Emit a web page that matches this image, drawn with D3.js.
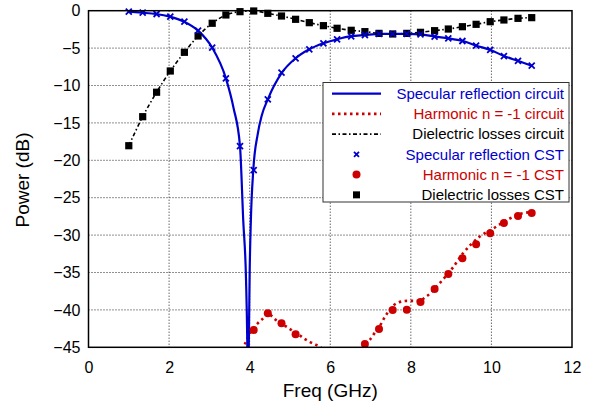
<!DOCTYPE html>
<html>
<head>
<meta charset="utf-8">
<script src="https://cdn.jsdelivr.net/npm/d3@7"></script>
<style>
body { margin: 0; background: #fff; }
svg { font-family: "Liberation Sans", Arial, sans-serif; }
</style>
</head>
<body>
<div class="chart"></div>
<script>
// frequencies of the CST samples (GHz)
const freqCST = [1.0, 1.345, 1.69, 2.03, 2.38, 2.72, 3.07, 3.41, 3.76, 4.1, 4.45, 4.79, 5.14, 5.48, 5.83,
    6.17, 6.52, 6.86, 7.21, 7.55, 7.9, 8.24, 8.59, 8.93, 9.28, 9.62, 9.97, 10.31, 10.66, 11.0];
const specularCST = [-0.13, -0.27, -0.44, -0.8, -1.47, -2.67, -4.95, -9.04, -18.1, -21.3, -11.85, -8.29, -6.36, -5.16, -4.36,
    -3.82, -3.42, -3.25, -3.11, -3.1, -3.11, -3.16, -3.47, -3.69, -4.05, -4.68, -5.25, -6.06, -6.72, -7.35];
const dielectricCST = [-18.05, -14.17, -10.9, -8.06, -5.56, -3.38, -1.68, -0.57, -0.13, -0.04, -0.35, -0.71, -1.15, -1.6, -2.0,
    -2.35, -2.62, -2.8, -3.03, -3.11, -3.03, -2.89, -2.67, -2.45, -2.14, -1.82, -1.47, -1.24, -1.02, -0.93];
const harmonicCST = [null, null, null, null, null, null, null, null, null, -42.69, -40.45, -41.79, -43.26, null, null,
    null, null, -44.56, -42.55, -40.0, -39.97, -38.94, -37.2, -35.2, -33.1, -31.23, -29.76, -28.38, -27.45, -27.04];

// circuit model curves
const freqSpecCirc = [1.0, 1.33, 1.67, 2.02, 2.37, 2.72, 3.07, 3.41, 3.6, 3.76, 3.84, 3.91, 3.94, 3.96, 3.98, 4.0, 4.03,
    4.09, 4.2, 4.3, 4.45, 4.8, 5.14, 5.48, 5.83, 6.17, 6.51, 6.86, 7.22, 7.55, 7.9, 8.24, 8.6, 8.93, 9.29, 9.63, 9.98,
    10.31, 10.67, 11.0];
const specCirc = [-0.13, -0.27, -0.44, -0.8, -1.47, -2.67, -4.95, -9.04, -13, -18.1, -28, -36, -44, -55, -44, -35, -28,
    -21.3, -16.5, -14, -11.85, -8.29, -6.36, -5.16, -4.36, -3.82, -3.4, -3.25, -3.11, -3.1, -3.11, -3.16, -3.47, -3.69,
    -4.05, -4.68, -5.25, -6.06, -6.72, -7.35];
const freqHarmCirc = [3.8, 3.87, 3.93, 4.01, 4.2, 4.32, 4.45, 4.64, 4.9, 5.04, 5.19, 5.37, 5.5, 5.62, 5.73, 5.85,
    6.3,
    6.8, 6.86, 6.98, 7.1, 7.19, 7.36, 7.5, 7.65, 7.9, 8.18, 8.39, 8.64, 8.85, 9.05, 9.3, 9.5, 9.71, 10.05, 10.38, 10.75, 10.96];
const harmCirc = [-47, -44.8, -44.0, -43.1, -41.8, -41.2, -40.5, -41.3, -42.2, -42.7, -43.2, -43.9, -44.3, -44.6, -44.9, -45.5,
    null,
    -45.2, -44.5, -44.0, -43.1, -42.5, -40.9, -39.8, -39.1, -38.8, -38.8, -38.2, -36.9, -35.6, -34.3, -32.4, -31.2, -30.2,
    -29.1, -28.0, -27.1, -26.95];

const xTicks = [0, 2, 4, 6, 8, 10, 12];
const yTicks = [0, -5, -10, -15, -20, -25, -30, -35, -40, -45];
const legendItems = ["Specular reflection circuit", "Harmonic n = -1 circuit", "Dielectric losses circuit",
    "Specular reflection CST", "Harmonic n = -1 CST", "Dielectric losses CST"];

const width = 597, height = 407;
const blue = '#0000cc', red = '#cc0000';
const pLeft = 88.5, pRight = 572, pTop = 10.7, pBottom = 347.3;

const svg = d3.select('.chart').append('svg')
    .attr('width', width)
    .attr('height', height);

const x = d3.scaleLinear().domain([0, 12]).range([pLeft, pRight]);
const y = d3.scaleLinear().domain([-45, 0]).range([pBottom, pTop]);

svg.append('clipPath').attr('id', 'clip')
    .append('rect')
    .attr('x', pLeft).attr('y', pTop)
    .attr('width', pRight - pLeft).attr('height', pBottom - pTop);

// grid
svg.append('g').selectAll('line')
    .data(xTicks.slice(1, -1))
    .enter().append('line')
    .attr('x1', d => x(d)).attr('x2', d => x(d))
    .attr('y1', pTop).attr('y2', pBottom)
    .attr('stroke', '#222').attr('stroke-width', 1).attr('stroke-dasharray', '1,2');
svg.append('g').selectAll('line')
    .data(yTicks.slice(1, -1))
    .enter().append('line')
    .attr('x1', pLeft).attr('x2', pRight)
    .attr('y1', d => y(d)).attr('y2', d => y(d))
    .attr('stroke', '#222').attr('stroke-width', 1).attr('stroke-dasharray', '1,2');

// axes
const xAxis = svg.append('g')
    .attr('transform', `translate(0,${pBottom})`)
    .call(d3.axisBottom(x).tickValues(xTicks).tickSize(0).tickPadding(14));
const yAxis = svg.append('g')
    .attr('transform', `translate(${pLeft},0)`)
    .call(d3.axisLeft(y).tickValues(yTicks).tickSize(0).tickPadding(8));
[xAxis, yAxis].forEach(a => {
    a.select('.domain').remove();
    a.selectAll('text').attr('font-size', 16).attr('fill', '#000')
        .attr('font-family', '"Liberation Sans", Arial, sans-serif');
});

const plot = svg.append('g').attr('clip-path', 'url(#clip)');

const line = d3.line()
    .defined(d => d[1] !== null)
    .x(d => x(d[0]))
    .y(d => y(d[1]))
    .curve(d3.curveMonotoneX);

// dielectric circuit
plot.append('path')
    .datum(freqCST.map((f, i) => [f, dielectricCST[i]]))
    .attr('d', line)
    .attr('fill', 'none')
    .attr('stroke', '#000')
    .attr('stroke-width', 1.6)
    .attr('stroke-dasharray', '4,2.5,1.5,2.5');

// harmonic circuit
plot.append('path')
    .datum(freqHarmCirc.map((f, i) => [f, harmCirc[i]]))
    .attr('d', line)
    .attr('fill', 'none')
    .attr('stroke', red)
    .attr('stroke-width', 2.6)
    .attr('stroke-dasharray', '2.5,3.5');

// specular circuit
plot.append('path')
    .datum(freqSpecCirc.map((f, i) => [f, specCirc[i]]))
    .attr('d', line)
    .attr('fill', 'none')
    .attr('stroke', blue)
    .attr('stroke-width', 2.2);

// CST markers
function drawX(g, cx, cy, s) {
    g.append('path')
        .attr('d', `M${cx - s},${cy - s}L${cx + s},${cy + s}M${cx - s},${cy + s}L${cx + s},${cy - s}`)
        .attr('stroke', blue).attr('stroke-width', 1.8).attr('fill', 'none');
}
const marks = svg.append('g');
freqCST.forEach((f, i) => {
    marks.append('rect')
        .attr('x', x(f) - 3.6).attr('y', y(dielectricCST[i]) - 3.6)
        .attr('width', 7.2).attr('height', 7.2)
        .attr('fill', '#000');
});
freqCST.forEach((f, i) => drawX(marks, x(f), y(specularCST[i]), 3));
freqCST.forEach((f, i) => {
    if (harmonicCST[i] === null) return;
    marks.append('circle')
        .attr('cx', x(f)).attr('cy', y(harmonicCST[i]))
        .attr('r', 4).attr('fill', red);
});

// frame
svg.append('rect')
    .attr('x', pLeft).attr('y', pTop)
    .attr('width', pRight - pLeft).attr('height', pBottom - pTop)
    .attr('fill', 'none').attr('stroke', '#000').attr('stroke-width', 1.5);

// axis titles
svg.append('text')
    .attr('x', (pLeft + pRight) / 2).attr('y', 397)
    .attr('text-anchor', 'middle').attr('font-size', 19)
    .text('Freq (GHz)');
svg.append('text')
    .attr('transform', 'translate(29,180) rotate(-90)')
    .attr('text-anchor', 'middle').attr('font-size', 19)
    .text('Power (dB)');

// legend
const lg = svg.append('g');
lg.append('rect')
    .attr('x', 323).attr('y', 82.5).attr('width', 246).attr('height', 119.5)
    .attr('fill', '#fff').attr('stroke', '#333').attr('stroke-width', 1);
const colors = [blue, red, '#000', blue, red, '#000'];
legendItems.forEach((t, i) => {
    const ly = 93.6 + i * 20.25;
    lg.append('text')
        .attr('x', 564).attr('y', ly).attr('dy', '0.35em')
        .attr('text-anchor', 'end').attr('font-size', 15)
        .attr('fill', colors[i])
        .text(t);
    if (i === 0) {
        lg.append('line').attr('x1', 332).attr('x2', 381).attr('y1', ly).attr('y2', ly)
            .attr('stroke', blue).attr('stroke-width', 2.2);
    } else if (i === 1) {
        lg.append('line').attr('x1', 332).attr('x2', 381).attr('y1', ly).attr('y2', ly)
            .attr('stroke', red).attr('stroke-width', 2.6).attr('stroke-dasharray', '2.5,3.5');
    } else if (i === 2) {
        lg.append('line').attr('x1', 332).attr('x2', 381).attr('y1', ly).attr('y2', ly)
            .attr('stroke', '#000').attr('stroke-width', 1.6).attr('stroke-dasharray', '4,2.5,1.5,2.5');
    } else if (i === 3) {
        drawX(lg, 356.5, ly, 2.5);
    } else if (i === 4) {
        lg.append('circle').attr('cx', 356.5).attr('cy', ly).attr('r', 4).attr('fill', red);
    } else {
        lg.append('rect').attr('x', 353).attr('y', ly - 3.5).attr('width', 7).attr('height', 7).attr('fill', '#000');
    }
});
</script>
</body>
</html>
